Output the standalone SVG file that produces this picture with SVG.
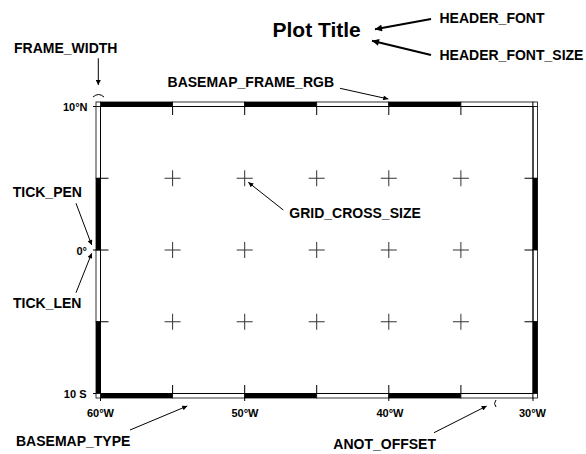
<svg xmlns="http://www.w3.org/2000/svg" width="586" height="454" viewBox="0 0 586 454">
<defs>
<marker id="ah" viewBox="0 0 10 10" refX="10" refY="5" markerWidth="7" markerHeight="5" markerUnits="userSpaceOnUse" orient="auto"><path d="M0,0 L10,5 L0,10 z" fill="#000"/></marker>
<marker id="ahb" viewBox="0 0 10 10" refX="10" refY="5" markerWidth="9" markerHeight="7" markerUnits="userSpaceOnUse" orient="auto"><path d="M0,0 L10,5 L0,10 z" fill="#000"/></marker>
<style>
text{font-family:"Liberation Sans",Arial,Helvetica,sans-serif;font-weight:bold;fill:#000}
.lbl{font-size:14px}
.ann{font-size:11px}
.title{font-size:21px}
.w{fill:#fff;stroke:#000;stroke-width:0.8}
.b{fill:#000;stroke:#000;stroke-width:0.8}
.tk{stroke:#000;stroke-width:1;fill:none}
.gc{stroke:#333;stroke-width:1;fill:none}
.arr{stroke:#000;stroke-width:1;fill:none;marker-end:url(#ah)}
.arrb{stroke:#000;stroke-width:2;fill:none;marker-end:url(#ahb)}
</style>
</defs>
<rect width="586" height="454" fill="#fff"/>
<g id="map-frame">
<!-- top -->
<rect class="b" x="100.5" y="102" width="72.1" height="4.5"/>
<rect class="w" x="172.6" y="102" width="72.1" height="4.5"/>
<rect class="b" x="244.7" y="102" width="72" height="4.5"/>
<rect class="w" x="316.7" y="102" width="72.1" height="4.5"/>
<rect class="b" x="388.8" y="102" width="72.1" height="4.5"/>
<rect class="w" x="460.9" y="102" width="72.1" height="4.5"/>
<!-- bottom -->
<rect class="b" x="100.5" y="393.5" width="72.1" height="4.5"/>
<rect class="w" x="172.6" y="393.5" width="72.1" height="4.5"/>
<rect class="b" x="244.7" y="393.5" width="72" height="4.5"/>
<rect class="w" x="316.7" y="393.5" width="72.1" height="4.5"/>
<rect class="b" x="388.8" y="393.5" width="72.1" height="4.5"/>
<rect class="w" x="460.9" y="393.5" width="72.1" height="4.5"/>
<!-- left -->
<rect class="w" x="96" y="106.5" width="4.5" height="71.75"/>
<rect class="b" x="96" y="178.25" width="4.5" height="71.75"/>
<rect class="w" x="96" y="250" width="4.5" height="71.75"/>
<rect class="b" x="96" y="321.75" width="4.5" height="71.75"/>
<!-- right -->
<rect class="w" x="533" y="106.5" width="4.5" height="71.75"/>
<rect class="b" x="533" y="178.25" width="4.5" height="71.75"/>
<rect class="w" x="533" y="250" width="4.5" height="71.75"/>
<rect class="b" x="533" y="321.75" width="4.5" height="71.75"/>
<!-- corners -->
<rect class="w" x="96" y="102" width="4.5" height="4.5"/>
<rect class="w" x="533" y="102" width="4.5" height="4.5"/>
<rect class="w" x="96" y="393.5" width="4.5" height="4.5"/>
<rect class="w" x="533" y="393.5" width="4.5" height="4.5"/>
<rect x="100.5" y="106.5" width="432.5" height="287" fill="none" stroke="#000" stroke-width="1"/>
<!-- inner ticks -->
<path class="tk" d="M172.6,106.5v8.5M244.7,106.5v8.5M316.7,106.5v8.5M388.8,106.5v8.5M460.9,106.5v8.5M172.6,393.5v-8.5M244.7,393.5v-8.5M316.7,393.5v-8.5M388.8,393.5v-8.5M460.9,393.5v-8.5M100.5,178.25h8M100.5,250h8M100.5,321.75h8M533,178.25h-8.5M533,250h-8.5M533,321.75h-8.5"/>
<!-- outer annotation ticks -->
<path class="tk" d="M93,106.5h3M93,250h7.5M93,393.5h3M100.5,398v3M244.7,398v3M388.8,398v3M533,398v3"/>
</g>
<g id="grid-crosses">
<path class="gc" d="M164.6,178.25h16M172.6,170.25v16M236.7,178.25h16M244.7,170.25v16M308.7,178.25h16M316.7,170.25v16M380.8,178.25h16M388.8,170.25v16M452.9,178.25h16M460.9,170.25v16
M164.6,250h16M172.6,242v16M236.7,250h16M244.7,242v16M308.7,250h16M316.7,242v16M380.8,250h16M388.8,242v16M452.9,250h16M460.9,242v16
M164.6,321.75h16M172.6,313.75v16M236.7,321.75h16M244.7,313.75v16M308.7,321.75h16M316.7,313.75v16M380.8,321.75h16M388.8,313.75v16M452.9,321.75h16M460.9,313.75v16"/>
</g>
<g id="annotations">
<text class="ann" x="87.5" y="111" text-anchor="end">10°N</text>
<text class="ann" x="87" y="254.5" text-anchor="end">0°</text>
<text class="ann" x="86.5" y="398.3" text-anchor="end">10 S</text>
<text class="ann" x="100.5" y="417.3" text-anchor="middle">60°W</text>
<text class="ann" x="245" y="417.3" text-anchor="middle">50°W</text>
<text class="ann" x="390" y="417.3" text-anchor="middle">40°W</text>
<text class="ann" x="532.5" y="417.3" text-anchor="middle">30°W</text>
</g>
<g id="title"><text class="title" x="272.5" y="36.5">Plot Title</text></g>
<g id="label-header-font"><text class="lbl" x="439.5" y="23.3">HEADER_FONT</text></g>
<g id="label-header-font-size"><text class="lbl" x="439.5" y="59.5">HEADER_FONT_SIZE</text></g>
<g id="label-frame-width"><text class="lbl" x="14" y="53.4">FRAME_WIDTH</text></g>
<g id="label-basemap-frame-rgb"><text class="lbl" x="334" y="87.3" text-anchor="end">BASEMAP_FRAME_RGB</text></g>
<g id="label-tick-pen"><text class="lbl" x="12.7" y="196.7">TICK_PEN</text></g>
<g id="label-tick-len"><text class="lbl" x="13" y="308.3">TICK_LEN</text></g>
<g id="label-grid-cross-size"><text class="lbl" x="289.3" y="218.3">GRID_CROSS_SIZE</text></g>
<g id="label-basemap-type"><text class="lbl" x="16" y="445.7">BASEMAP_TYPE</text></g>
<g id="label-anot-offset"><text class="lbl" x="333.3" y="449">ANOT_OFFSET</text></g>
<g id="connectors">
<path class="arrb" d="M431,19 L375,29.3"/>
<path class="arrb" d="M431,55 L372,40.7"/>
<path class="arr" d="M98.3,58.3 L98.3,85"/>
<path class="tk" d="M93,97 Q98.5,92 104,97"/>
<path class="arr" d="M340,88.3 L388.3,99"/>
<path class="arr" d="M76,203.3 L91.7,245"/>
<path class="arr" d="M76,292.7 L91.7,253.3"/>
<path class="arr" d="M283.3,210 L248.3,182.3"/>
<path class="arr" d="M130,430 L187.3,406"/>
<path class="arr" d="M434,432.7 L486.7,406"/>
<path class="tk" d="M496,400 Q493,403.5 496,407"/>
</g>
</svg>
